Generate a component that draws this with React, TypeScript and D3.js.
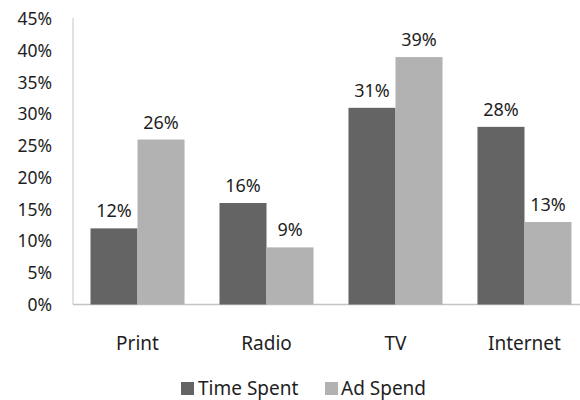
import React from "react";
import * as d3 from "d3";

const categories = ["Print", "Radio", "TV", "Internet"];
const seriesNames = ["Time Spent", "Ad Spend"];
const timeSpent = [12, 16, 31, 28];
const adSpend = [26, 9, 39, 13];
const yTicks = [0, 5, 10, 15, 20, 25, 30, 35, 40, 45];
const colors = ["#646464", "#b2b2b2"];

const W = 580;
const H = 400;
const left = 73;
const right = 589;
const top = 19;
const bottom = 304.5;
const FONT = "'Noto Sans', 'Open Sans', sans-serif";

export default function App() {
  const x = d3.scaleBand<string>().domain(categories).range([left, right]).paddingInner(0.271).paddingOuter(0.1357);
  const xs = d3.scaleBand<string>().domain(seriesNames).range([0, x.bandwidth()]);
  const y = d3.scaleLinear().domain([0, 45]).range([bottom, top]);
  const series = [timeSpent, adSpend];

  return (
    <svg width={W} height={H} style={{ position: "absolute", left: 0, top: 0, background: "#fff" }}>
      <rect width={W} height={H} fill="#fff" />
      <line x1={left} x2={left} y1={top - 1} y2={bottom} stroke="#c4c4c4" strokeWidth={1} />
      <line x1={left} x2={W} y1={bottom} y2={bottom} stroke="#c4c4c4" strokeWidth={1.5} />
      {yTicks.map((t) => (
        <text key={t} x={52} y={y(t)} dy="0.36em" textAnchor="end" fontFamily={FONT} fontSize={17.5} fill="#1e1e1e">
          {t}%
        </text>
      ))}
      {categories.map((c, i) => (
        <g key={c}>
          {series.map((s, j) => {
            const bx = (x(c) as number) + (xs(seriesNames[j]) as number);
            const bw = xs.bandwidth();
            return (
              <g key={j}>
                <rect x={bx} y={y(s[i])} width={bw} height={bottom - y(s[i])} fill={colors[j]} />
                <text x={bx + bw / 2} y={y(s[i]) - 11} textAnchor="middle" fontFamily={FONT} fontSize={18} fill="#1e1e1e">
                  {s[i]}%
                </text>
              </g>
            );
          })}
          <text x={(x(c) as number) + x.bandwidth() / 2} y={350} textAnchor="middle" fontFamily={FONT} fontSize={19} fill="#1e1e1e">
            {c}
          </text>
        </g>
      ))}
      <g>
        <rect x={181} y={382} width={13} height={13} fill={colors[0]} />
        <text x={198} y={395} fontFamily={FONT} fontSize={19} fill="#1e1e1e">{seriesNames[0]}</text>
        <rect x={325} y={382} width={13} height={13} fill={colors[1]} />
        <text x={341} y={395} fontFamily={FONT} fontSize={19} fill="#1e1e1e">{seriesNames[1]}</text>
      </g>
    </svg>
  );
}
